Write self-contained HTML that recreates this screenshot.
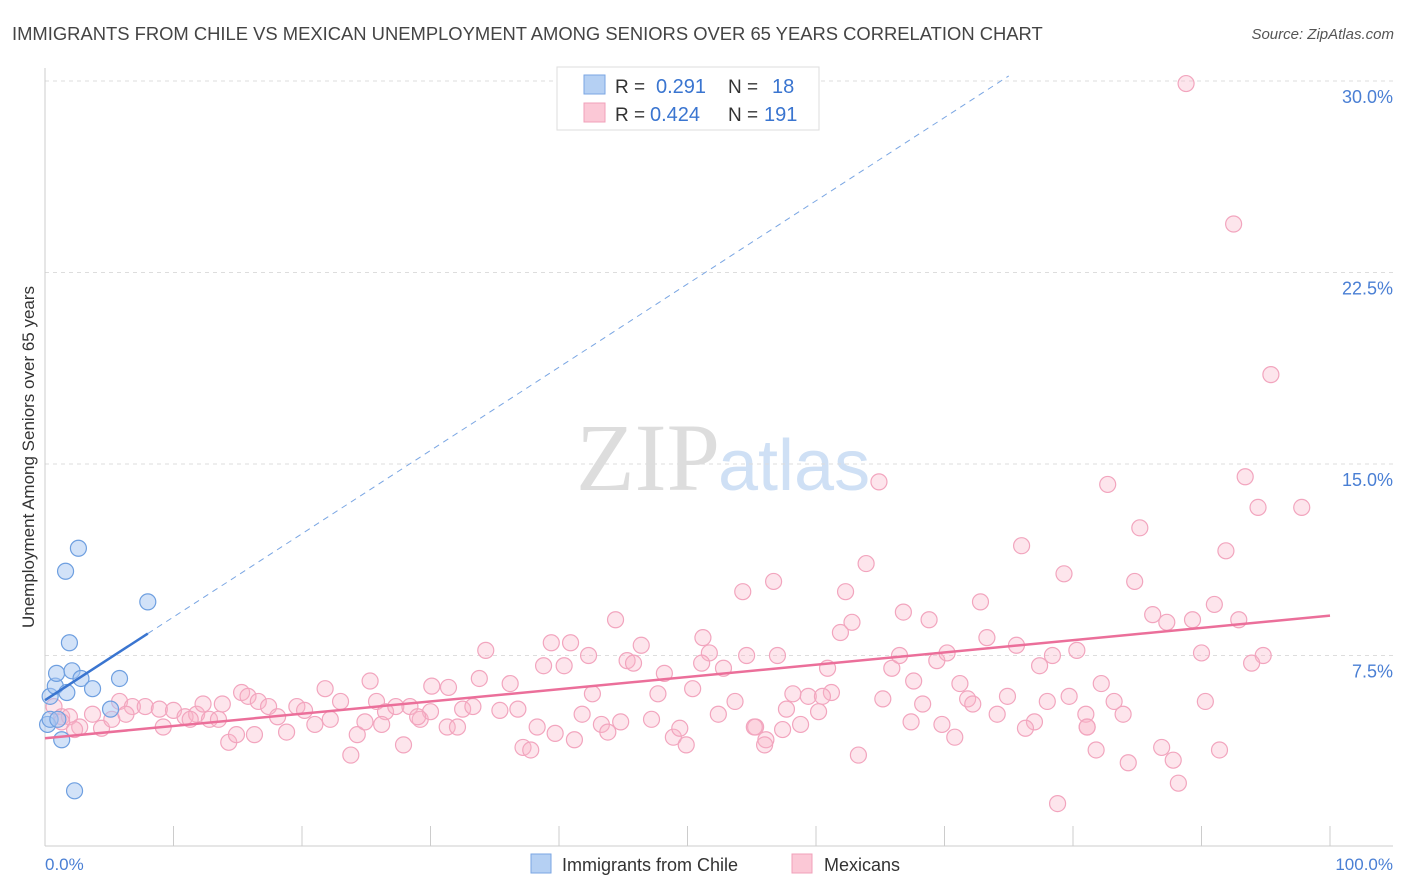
<!DOCTYPE html>
<html><head><meta charset="utf-8"><style>
body{margin:0;background:#fff;font-family:"Liberation Sans",sans-serif;}
svg{display:block}
</style></head><body>
<svg id="chart" width="1406" height="892">
<text x="12" y="40" font-size="18.4" fill="#444">IMMIGRANTS FROM CHILE VS MEXICAN UNEMPLOYMENT AMONG SENIORS OVER 65 YEARS CORRELATION CHART</text>
<text x="1394" y="39" font-size="15" fill="#555" font-style="italic" text-anchor="end">Source: ZipAtlas.com</text>
<text x="720" y="490" font-size="96" fill="#ddd" font-family="Liberation Serif,serif" text-anchor="end">ZIP</text>
<text x="718" y="490" font-size="72" fill="#cfe0f5">atlas</text>
<g id="grid"></g><g id="axes"></g><g id="pts"></g><g id="lines"></g>
<text transform="translate(34,457) rotate(-90)" font-size="17" fill="#333" text-anchor="middle">Unemployment Among Seniors over 65 years</text>
<text x="45" y="870" font-size="17" fill="#4a7fd4">0.0%</text>
<text x="1393" y="870" font-size="17" fill="#4a7fd4" text-anchor="end">100.0%</text>
<g>
<rect x="557" y="67" width="262" height="63" fill="#fff" stroke="#ddd"/>
<rect x="584" y="75" width="21" height="19" fill="#b5d0f3" stroke="#7aa6e3"/>
<rect x="584" y="103" width="21" height="19" fill="#fbc8d6" stroke="#f0a0ba"/>
<text x="615" y="93" font-size="19" fill="#333">R = </text><text x="656" y="93" font-size="20" fill="#3a75d0">0.291</text>
<text x="728" y="93" font-size="19" fill="#333">N = </text><text x="772" y="93" font-size="20" fill="#3a75d0">18</text>
<text x="615" y="121" font-size="19" fill="#333">R = </text><text x="650" y="121" font-size="20" fill="#3a75d0">0.424</text>
<text x="728" y="121" font-size="19" fill="#333">N = </text><text x="764" y="121" font-size="20" fill="#3a75d0">191</text>
</g>
<g><rect x="531" y="854" width="20" height="19" fill="#b5d0f3" stroke="#7aa6e3"/><text x="562" y="871" font-size="18" fill="#333">Immigrants from Chile</text></g>
<g><rect x="792" y="854" width="20" height="19" fill="#fbc8d6" stroke="#f0a0ba"/><text x="824" y="871" font-size="18" fill="#333">Mexicans</text></g>
</svg>
<script>
const yTicks=[7.5,15,22.5,30];
const yTickLabels=["7.5%","15.0%","22.5%","30.0%"];
const xTicks=[0,10,20,30,40,50,60,70,80,90,100];
const chileX=[0.4,0.8,1.7,0.9,2.1,1.9,1.6,2.6,2.8,3.7,5.8,8.0,5.1,0.2,0.4,1.0,1.3,2.3];
const chileY=[5.9,6.3,6.05,6.8,6.9,8.0,10.8,11.7,6.6,6.2,6.6,9.6,5.4,4.8,5.0,5.0,4.2,2.2];
const mexX=[88.8,92.5,95.4,64.9,93.4,82.7,94.4,97.8,85.2,76.0,91.9,63.9,79.3,56.7,84.8,54.3,62.3,72.8,91.0,44.4,66.8,86.2,68.8,87.3,89.3,92.9,62.8,51.2,61.9,39.4,40.9,46.4,73.3,34.3,75.6,80.3,90.0,94.8,93.9,42.3,45.3,45.8,51.7,54.6,57.0,38.8,40.4,48.2,51.1,52.8,60.9,65.9,66.5,69.4,70.2,77.4,78.4,25.3,33.8,21.8,30.1,31.4,36.2,42.6,47.7,50.4,15.3,15.8,67.6,71.2,71.8,82.2,74.9,79.7,83.2,90.3,58.2,59.4,61.2,60.5,65.2,72.2,78.0,81.0,5.8,6.8,7.8,8.9,10.0,10.9,11.8,12.3,13.8,16.6,17.4,18.1,19.6,20.2,22.2,23.0,25.8,26.5,27.3,28.4,29.2,30.0,32.5,33.3,35.4,36.8,41.8,53.7,55.3,57.7,60.2,68.3,74.1,77.0,83.9,81.1,0.7,1.3,1.9,2.7,3.7,4.4,5.2,6.3,9.2,11.3,12.8,13.5,14.3,14.9,16.3,18.8,21.0,24.3,24.9,26.2,27.9,29.0,31.3,32.1,38.3,39.7,41.2,43.3,43.8,44.8,47.2,48.9,49.4,49.9,52.4,55.2,56.1,56.0,57.4,58.8,67.4,69.8,70.8,76.3,81.1,23.8,37.2,37.8,63.3,81.8,84.3,86.9,87.8,91.4,88.2,78.8,1.3,2.3];
const mexY=[29.9,24.4,18.5,14.3,14.5,14.2,13.3,13.3,12.5,11.8,11.6,11.1,10.7,10.4,10.4,10.0,10.0,9.6,9.5,8.9,9.2,9.1,8.9,8.8,8.9,8.9,8.8,8.2,8.4,8.0,8.0,7.9,8.2,7.7,7.9,7.7,7.6,7.5,7.2,7.5,7.3,7.2,7.6,7.5,7.5,7.1,7.1,6.8,7.2,7.0,7.0,7.0,7.5,7.3,7.6,7.1,7.5,6.5,6.6,6.2,6.3,6.25,6.4,6.0,6.0,6.2,6.05,5.9,6.5,6.4,5.8,6.4,5.9,5.9,5.7,5.7,6.0,5.9,6.05,5.9,5.8,5.6,5.7,5.2,5.7,5.5,5.5,5.4,5.35,5.1,5.2,5.6,5.6,5.7,5.5,5.1,5.5,5.35,5.0,5.7,5.7,5.3,5.5,5.5,5.0,5.3,5.4,5.5,5.35,5.4,5.2,5.7,4.7,5.4,5.3,5.6,5.2,4.9,5.2,4.7,5.5,5.1,5.1,4.7,5.2,4.65,5.0,5.2,4.7,5.0,5.0,5.0,4.1,4.4,4.4,4.5,4.8,4.4,4.9,4.8,4.0,5.1,4.7,4.7,4.7,4.45,4.2,4.8,4.5,4.9,5.0,4.3,4.65,4.0,5.2,4.7,4.2,4.0,4.6,4.8,4.9,4.8,4.3,4.65,4.7,3.6,3.9,3.8,3.6,3.8,3.3,3.9,3.4,3.8,2.5,1.7,4.9,4.6];
const chileTrend=[5.75,0.326]; // intercept, slope
const mexTrend=[4.26,0.048];
const L=45,R=1330,T=81,B=847;
const xs=v=>L+(R-L)*v/100, ys=v=>B-(B-T)*v/30;
const NS='http://www.w3.org/2000/svg';
function mk(p,tag,a){const e=document.createElementNS(NS,tag);for(const k in a)e.setAttribute(k,a[k]);p.appendChild(e);return e;}
const grid=document.getElementById('grid'),axes=document.getElementById('axes'),pts=document.getElementById('pts'),lines=document.getElementById('lines');
yTicks.forEach((t,i)=>{
 const g=mk(grid,'line',{x1:L,x2:1393,y1:ys(t),y2:ys(t),stroke:'#ddd','stroke-dasharray':'4,4'});
 
 
 const tx=mk(grid,'text',{x:1393,y:ys(t)+22,'font-size':18,fill:'#4a7fd4','text-anchor':'end'});
 tx.textContent=yTickLabels[i];
 
 
});
const ax=mk(axes,'line',{x1:L,x2:L,y1:68,y2:846,stroke:'#ccc'});


const bx=mk(axes,'line',{x1:L,x2:1393,y1:846,y2:846,stroke:'#ccc'});


xTicks.forEach(t=>{
 const k=mk(axes,'line',{x1:xs(t),x2:xs(t),y1:826,y2:846,stroke:'#ccc'});
 
 
});
mexX.forEach((x,i)=>{
 const c=mk(pts,'circle',{cx:xs(x),cy:ys(mexY[i]),r:8,fill:'rgba(248,180,200,0.35)',stroke:'#f2a5be','stroke-width':1.2});
 
 
});
chileX.forEach((x,i)=>{
 const c=mk(pts,'circle',{cx:xs(x),cy:ys(chileY[i]),r:8,fill:'rgba(165,198,242,0.5)',stroke:'#6e9fe0','stroke-width':1.2});
 
 
});
const cEnd=(30.2-chileTrend[0])/chileTrend[1];
const d=mk(lines,'line',{x1:xs(8),y1:ys(chileTrend[0]+8*chileTrend[1]),x2:xs(cEnd),y2:ys(30.2),stroke:'#7aa6e3','stroke-width':1,'stroke-dasharray':'6,5'});


const s=mk(lines,'line',{x1:xs(0),y1:ys(chileTrend[0]),x2:xs(8),y2:ys(chileTrend[0]+8*chileTrend[1]),stroke:'#3a75d0','stroke-width':2.5});


const m=mk(lines,'line',{x1:xs(0),y1:ys(mexTrend[0]),x2:xs(100),y2:ys(mexTrend[0]+100*mexTrend[1]),stroke:'#eb6f9a','stroke-width':2.5});


</script>
</body></html>
